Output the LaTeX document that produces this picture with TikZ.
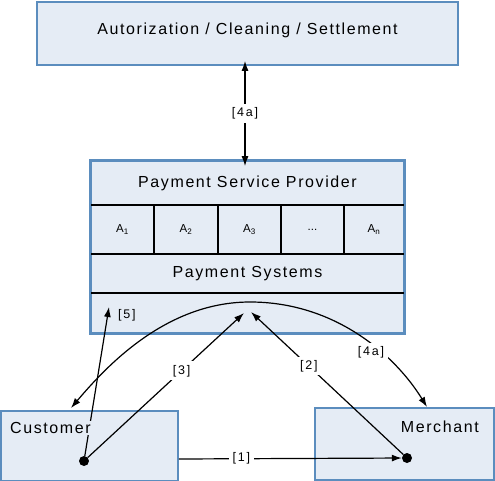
\documentclass[tikz,border=0pt]{standalone}
\usepackage{fontspec}
\setmainfont{Liberation Sans}
\usetikzlibrary{arrows.meta}
\definecolor{boxfill}{HTML}{E5ECF5}
\definecolor{boxline}{HTML}{5B8DBE}
\begin{document}
\begin{tikzpicture}[x=1pt,y=-1pt,
  box/.style={draw=boxline,fill=boxfill,line width=1.8pt,rectangle,inner sep=0pt},
  sep/.style={draw=black,line width=1.2pt},
  big/.style={font=\fontsize{16}{18}\selectfont\addfontfeature{LetterSpace=10}},
  sml/.style={font=\fontsize{11.5}{13}\selectfont},
  lbl/.style={font=\fontsize{12.5}{14}\selectfont\addfontfeature{LetterSpace=14},inner sep=3.5pt},
  conn/.style={line width=1.2pt,-{Latex[length=10pt,width=7pt]}},
  conn2/.style={line width=1.2pt,{Latex[length=10pt,width=7pt]}-{Latex[length=10pt,width=7pt]}},
  dot/.style={circle,fill=black,inner sep=0pt,minimum size=10pt}]
\useasboundingbox (0,0) rectangle (495,481);
% boxes
\node[box,minimum width=421pt,minimum height=63pt] (top) at (247.5,33.5) {};
\node[big] (toptxt) at (247.5,30) {Autorization / Cleaning / Settlement};
\node[box,minimum width=313pt,minimum height=172pt] (psp) at (247.5,247) {};
\node[box,minimum width=177pt,minimum height=70pt] (cust) at (89.5,446) {};
\node[box,minimum width=179pt,minimum height=72pt] (merch) at (404.5,444) {};
% psp internal lines
\draw[sep] (91,205) -- (404,205);
\draw[sep] (91,254) -- (404,254);
\draw[sep] (91,293) -- (404,293);
\foreach \x in {154,218,281,344} \draw[sep] (\x,205) -- (\x,254);
\node[big] (psptitle) at (247.5,183) {Payment Service Provider};
\node[sml] (a1) at (122.5,229.5) {A\textsubscript{1}};
\node[sml] (a2) at (186,229.5) {A\textsubscript{2}};
\node[sml] (a3) at (249.5,229.5) {A\textsubscript{3}};
\node[sml] (a4) at (312.5,229.5) {...};
\node[sml] (a5) at (374,229.5) {A\textsubscript{n}};
\node[big] (ps) at (247.5,273.5) {Payment Systems};
% re-draw outer border on top
\draw[draw=boxline,line width=1.8pt] (psp.north west) rectangle (psp.south east);
% dots and targets
\node[dot] (cdot) at (84,461) {};
\node[dot] (mdot) at (407,458) {};
\coordinate (t3) at (244,313);
\coordinate (t2) at (251,312);
\coordinate (t5) at (109,307);
\coordinate (arcL) at (71,408);
\coordinate (arcR) at (427,407);
% connectors
\draw[conn2] ([yshift=5pt]top.south -| 245,0) -- ([yshift=-6pt]psp.north -| 245,0)
  node[midway,fill=white,lbl] (l4top) {[4a]};
\draw[conn] (cust.east |- 0,459) -- (mdot) node[pos=0.28,fill=white,lbl] (l1) {[1]};
\draw[conn] (cdot) -- (t3) node[pos=0.6,fill=white,lbl] (l3) {[3]};
\draw[conn] (mdot) -- (t2) node[pos=0.62,fill=white,lbl] (l2) {[2]};
\draw[conn] (cdot) -- (t5);
\node[lbl,anchor=west,inner sep=2pt] (l5) at (116,315) {[5]};
\draw[conn2] (arcL) .. controls (105,368) and (165,302) .. (250,302)
  .. controls (335,302) and (395,355) .. (arcR);
\node[lbl,fill=white] (l4) at (371,352) {[4a]};
% box labels (drawn over lines)
\node[big,fill=boxfill,inner sep=1pt,anchor=west] (custtxt) at (9,428) {Customer};
\node[big,fill=boxfill,inner sep=1pt,anchor=east] (merchtxt) at (480,427) {Merchant};
\end{tikzpicture}
\end{document}
